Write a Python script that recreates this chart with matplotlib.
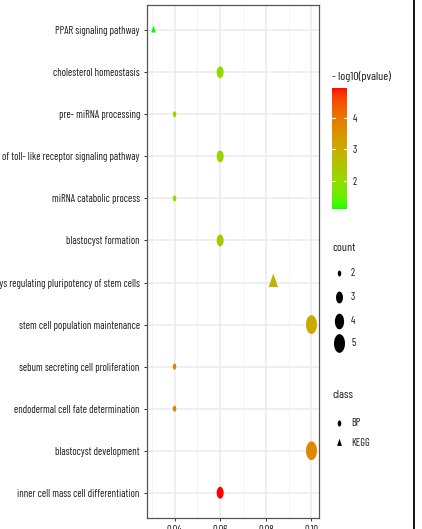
import numpy as np
import matplotlib
matplotlib.use("Agg")
import matplotlib.pyplot as plt
from matplotlib.path import Path
from matplotlib import font_manager
from matplotlib.font_manager import FontProperties
from matplotlib.textpath import TextPath
from matplotlib.colors import ListedColormap, Normalize
from matplotlib.colorbar import ColorbarBase

# ---------------- data ----------------
terms = [
    "PPAR signaling pathway",
    "cholesterol homeostasis",
    "pre- miRNA processing",
    "negative regulation of toll- like receptor signaling pathway",
    "miRNA catabolic process",
    "blastocyst formation",
    "signaling pathways regulating pluripotency of stem cells",
    "stem cell population maintenance",
    "sebum secreting cell proliferation",
    "endodermal cell fate determination",
    "blastocyst development",
    "inner cell mass cell differentiation",
]
gene_ratio = [0.0308, 0.06, 0.04, 0.06, 0.04, 0.06, 0.0833, 0.10, 0.04, 0.04, 0.10, 0.06]
counts = [2, 3, 2, 3, 2, 3, 3, 5, 2, 2, 5, 3]
neglog10p = [1.11, 2.05, 1.95, 2.15, 1.95, 2.45, 2.85, 3.10, 3.85, 3.85, 3.65, 4.95]
classes = ["KEGG", "BP", "BP", "BP", "BP", "BP", "KEGG", "BP", "BP", "BP", "BP", "BP"]
x_ticks = [0.04, 0.06, 0.08, 0.10]
x_ticklabels = ["0.04", "0.06", "0.08", "0.10"]
cbar_ticks = [2, 3, 4]
count_levels = [2, 3, 4, 5]
class_levels = ["BP", "KEGG"]

# ---------------- fonts: pick the condensed sans closest to the reference proportions ----------------
names = {f.name for f in font_manager.fontManager.ttflist}
candidates = ["Liberation Sans Narrow", "Nimbus Sans Narrow", "Arial Narrow", "Archivo Narrow",
              "Roboto Condensed", "Asap Condensed", "Encode Sans Condensed", "Encode Sans Semi Condensed",
              "Barlow Semi Condensed", "Barlow Condensed", "IBM Plex Sans Condensed", "Fira Sans Condensed",
              "Fira Sans Extra Condensed", "PT Sans Narrow", "Sofia Sans Condensed", "Open Sans Condensed",
              "Noto Sans Condensed", "Archivo Condensed", "Pragati Narrow"]
REF_STR = "inner cell mass cell differentiation"
REF_W = 122.0
TARGET = REF_W / 8.0   # label width / cap height in the reference
best, best_err = "Liberation Sans", 1e9
for cand in candidates:
    if cand not in names:
        continue
    try:
        fp = FontProperties(family=cand, size=10)
        cap = TextPath((0, 0), "H", prop=fp).get_extents().height
        wid = TextPath((0, 0), REF_STR, prop=fp).get_extents().width
        err = abs(wid / cap - TARGET)
        if err < best_err:
            best, best_err = cand, err
    except Exception:
        pass
FAM = best
plt.rcParams["font.family"] = [FAM, "DejaVu Sans"]
TXT = "#1a1a1a"

# ---------------- colour scale (Lab interpolation green -> red) ----------------
def _lin(c):
    c = np.asarray(c, float)
    return np.where(c <= 0.04045, c / 12.92, ((c + 0.055) / 1.055) ** 2.4)

def _gam(c):
    c = np.clip(c, 0, 1)
    return np.where(c <= 0.0031308, 12.92 * c, 1.055 * c ** (1 / 2.4) - 0.055)

M = np.array([[0.4124, 0.3576, 0.1805], [0.2126, 0.7152, 0.0722], [0.0193, 0.1192, 0.9505]])
WN = np.array([0.95047, 1.0, 1.08883])

def rgb2lab(rgb):
    xyz = M @ _lin(rgb) / WN
    f = np.where(xyz > 0.008856, np.cbrt(xyz), 7.787 * xyz + 16 / 116)
    return np.array([116 * f[1] - 16, 500 * (f[0] - f[1]), 200 * (f[1] - f[2])])

def lab2rgb(lab):
    L, a, b = lab
    fy = (L + 16) / 116
    fx = fy + a / 500
    fz = fy - b / 200
    f = np.array([fx, fy, fz])
    xyz = np.where(f ** 3 > 0.008856, f ** 3, (f - 16 / 116) / 7.787) * WN
    return _gam(np.linalg.inv(M) @ xyz)

lab_lo = rgb2lab([0, 1, 0])
lab_hi = rgb2lab([1, 0, 0])
cmap = ListedColormap([lab2rgb(lab_lo + t * (lab_hi - lab_lo)) for t in np.linspace(0, 1, 256)])
norm = Normalize(vmin=min(neglog10p), vmax=max(neglog10p))

# ---------------- marker shapes (vertically stretched like the reference) ----------------
STRETCH = 1.7
th = np.linspace(0, 2 * np.pi, 61)
ell_path = Path(np.column_stack([0.5 * np.cos(th), 0.5 * STRETCH * np.sin(th)]), closed=True)
tw, thh = 1.347, 1.165 * STRETCH
tri_path = Path([[-tw / 2, -thh / 3], [tw / 2, -thh / 3], [0, 2 * thh / 3], [-tw / 2, -thh / 3]], closed=True)
ELL_MAX = 0.5 * STRETCH
TRI_MAX = max(2 * thh / 3, tw / 2)

def diam_px(c):
    c = np.asarray(c, float)
    return np.sqrt(12.25 + (c - 2) * (121 - 12.25) / 3)

def s_for(d, maxabs):
    m_pts = 2 * maxabs * d * 0.72
    return m_pts ** 2

# ---------------- figure ----------------
W, H = 422, 529
fig = plt.figure(figsize=(W / 100, H / 100), dpi=100)
fig.patch.set_facecolor("white")
renderer = fig.canvas.get_renderer()

def fit_size(s, target_px, base=10.0):
    t = fig.text(0, 0, s, fontsize=base, family=[FAM, "DejaVu Sans"])
    w = t.get_window_extent(renderer).width
    t.remove()
    return base * target_px / w

FS = fit_size(REF_STR, REF_W)
FS_T = fit_size("- log10(pvalue)", 59)

ax_l, ax_r, ax_t, ax_b = 146.7, 319.0, 5.0, 518.0
ax = fig.add_axes([ax_l / W, 1 - ax_b / H, (ax_r - ax_l) / W, (ax_b - ax_t) / H])

n = len(terms)
ypos = np.array([n - 1 - i for i in range(n)], float)
xr = np.array(gene_ratio)
cnt = np.array(counts)
vals = np.array(neglog10p)
cls = np.array(classes)

for c_name, path, mx in [("BP", ell_path, ELL_MAX), ("KEGG", tri_path, TRI_MAX)]:
    m = cls == c_name
    ax.scatter(xr[m], ypos[m], s=s_for(diam_px(cnt[m]), mx), c=vals[m], cmap=cmap, norm=norm,
               marker=path, linewidths=0, zorder=3)

ax.set_xlim(0.0278, 0.1033)
ax.set_ylim(-0.6, n - 0.4)
ax.set_yticks(ypos)
ax.set_yticklabels(terms)
ax.set_xticks(x_ticks)
ax.set_xticklabels(x_ticklabels)
ax.set_xticks([0.03, 0.05, 0.07, 0.09], minor=True)
ax.grid(True, which="major", color="#EBEBEB", lw=1.1, zorder=0)
ax.grid(True, which="minor", axis="x", color="#F2F2F2", lw=0.6, zorder=0)
ax.set_axisbelow(True)
ax.tick_params(axis="both", which="major", length=2.5, width=0.7, color="#333333",
               labelsize=FS, labelcolor=TXT, pad=2.5)
ax.tick_params(axis="x", which="minor", length=0)
for sp in ax.spines.values():
    sp.set_color("#555555")
    sp.set_linewidth(0.9)

# ---------------- colourbar ----------------
cax = fig.add_axes([332 / W, 1 - 209 / H, 15 / W, 121 / H])
cb = ColorbarBase(cax, cmap=cmap, norm=norm, orientation="vertical")
cb.outline.set_visible(False)
cb.set_ticks(cbar_ticks)
cb.set_ticklabels([str(t) for t in cbar_ticks])
cax.tick_params(length=0, pad=4, labelsize=FS, labelcolor=TXT)
for v in cbar_ticks:
    cax.axhline(v, xmin=0, xmax=0.2, color="white", lw=0.8)
    cax.axhline(v, xmin=0.8, xmax=1, color="white", lw=0.8)

# ---------------- overlay for legends ----------------
ov = fig.add_axes([0, 0, 1, 1])
ov.set_xlim(0, W)
ov.set_ylim(H, 0)
ov.axis("off")
ov.patch.set_visible(False)

ov.text(332, 77, "- log10(pvalue)", fontsize=FS_T, color=TXT, va="center", ha="left")
ov.text(332, 248, "count", fontsize=FS_T, color=TXT, va="center", ha="left")
ov.text(332, 395, "class", fontsize=FS_T, color=TXT, va="center", ha="left")

count_y = [273, 297, 321, 343]
for cv, yy in zip(count_levels, count_y):
    ov.scatter([339], [yy], s=s_for(diam_px(cv), ELL_MAX), color="black", marker=ell_path, linewidths=0)
    ov.text(351, yy, str(cv), fontsize=FS, color=TXT, va="center", ha="left")

class_y = [423, 443]
for cl, yy, path, mx in zip(class_levels, class_y, [ell_path, tri_path], [ELL_MAX, TRI_MAX]):
    ov.scatter([339], [yy], s=s_for(3.6, mx), color="black", marker=path, linewidths=0)
    ov.text(351, yy, cl, fontsize=FS, color=TXT, va="center", ha="left")

ov.plot([414, 414], [0, H], color="black", lw=1.3)

fig.savefig("out.png", dpi=100, facecolor="white")
